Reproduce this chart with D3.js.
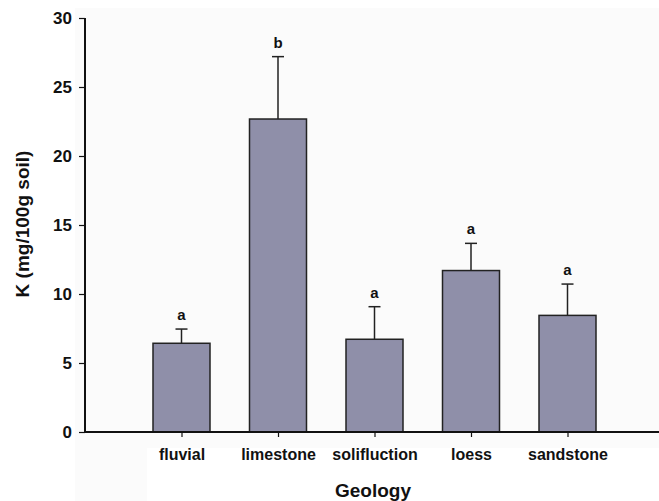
<!DOCTYPE html>
<html><head><meta charset="utf-8">
<script src="https://cdn.jsdelivr.net/npm/d3@7"></script>
<style>body{margin:0;background:#fff}svg{display:block}text{font-family:Arial,"Liberation Sans",sans-serif;font-weight:bold;fill:#111}</style>
</head><body>
<svg id="c" width="659" height="501"></svg>
<script>
const categories = ["fluvial","limestone","solifluction","loess","sandstone"];
const means = [6.43, 22.68, 6.72, 11.7, 8.45];
const errors = [1.03, 4.52, 2.36, 1.97, 2.27];
const letters = ["a","b","a","a","a"];
const yTicks = [0,5,10,15,20,25,30];

const svg = d3.select("#c");
const mLeft = 85, mRight = 664, mTop = 18, mBottom = 432;
const FONT = "Arial,'Liberation Sans',sans-serif";

svg.append("rect").attr("x",75).attr("y",8).attr("width",584).attr("height",440).attr("fill","#fbfbfb");
svg.append("rect").attr("x",75).attr("y",448).attr("width",72).attr("height",53).attr("fill","#fbfbfb");

const x = d3.scalePoint().domain(["_s", ...categories, "_e"]).range([mLeft, mRight]);
const y = d3.scaleLinear().domain([0,30]).range([mBottom, mTop]);
const bw = 57;

const g = svg.append("g");
categories.forEach((c,i)=>{
  const cx = x(c);
  g.append("line").attr("x1",cx).attr("x2",cx).attr("y1",y(means[i])).attr("y2",y(means[i]+errors[i]))
    .attr("stroke","#222").attr("stroke-width",1.5);
  g.append("line").attr("x1",cx-6).attr("x2",cx+6).attr("y1",y(means[i]+errors[i])).attr("y2",y(means[i]+errors[i]))
    .attr("stroke","#222").attr("stroke-width",1.5);
  g.append("rect").attr("x",cx-bw/2).attr("y",y(means[i])).attr("width",bw).attr("height",y(0)-y(means[i]))
    .attr("fill","#8f8fa9").attr("stroke","#222").attr("stroke-width",1.5);
  g.append("text").attr("x",cx).attr("y",y(means[i]+errors[i])-9).attr("text-anchor","middle")
    .attr("font-size",15).text(letters[i]);
});

const ya = svg.append("g").attr("transform",`translate(${mLeft},0)`)
  .call(d3.axisLeft(y).tickValues(yTicks).tickSize(6).tickPadding(7));
ya.select(".domain").attr("stroke","#111").attr("stroke-width",2).attr("d",`M0,${mTop}V${mBottom}`);
ya.selectAll(".tick line").attr("stroke","#111").attr("stroke-width",1.2);
ya.selectAll(".tick text").attr("font-size",17).attr("font-family",FONT).attr("font-weight","bold").attr("fill","#111");

const xa = svg.append("g").attr("transform",`translate(0,${mBottom})`)
  .call(d3.axisBottom(x).tickValues(categories).tickSize(5).tickPadding(12));
xa.select(".domain").attr("stroke","#111").attr("stroke-width",2).attr("d",`M${mLeft},0H659`);
xa.selectAll(".tick line").attr("stroke","#111").attr("stroke-width",1.2);
xa.selectAll(".tick text").attr("font-size",16).attr("font-family",FONT).attr("font-weight","bold").attr("fill","#111");

svg.append("text").attr("x",373).attr("y",497).attr("text-anchor","middle").attr("font-size",19).text("Geology");
svg.append("text").attr("transform","translate(29,224) rotate(-90)").attr("text-anchor","middle").attr("font-size",19).text("K (mg/100g soil)");
</script>
</body></html>
